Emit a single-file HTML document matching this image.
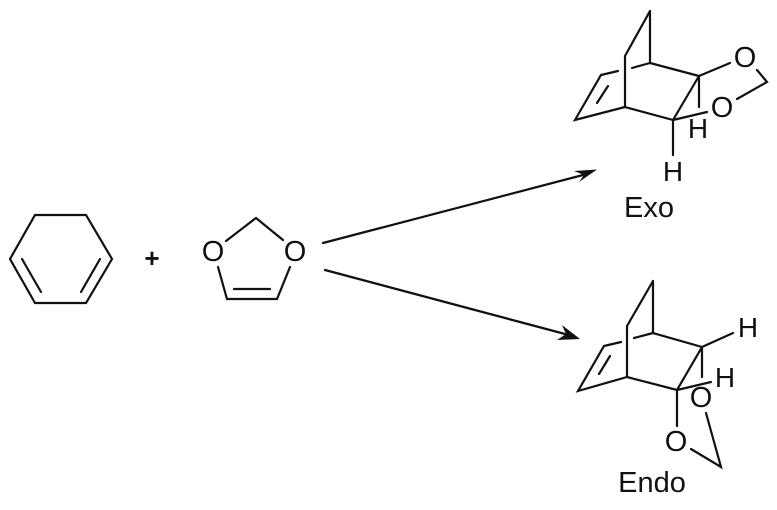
<!DOCTYPE html>
<html>
<head>
<meta charset="utf-8">
<style>
html,body{margin:0;padding:0;background:#fff;width:777px;height:510px;overflow:hidden}
svg{display:block}
text{font-family:"Liberation Sans",sans-serif;fill:#111;text-anchor:middle}
.b{stroke:#111;stroke-width:2.2;fill:none;stroke-linecap:round;stroke-linejoin:miter}
</style>
</head>
<body>
<svg width="777" height="510" viewBox="0 0 777 510">
<!-- cyclohexadiene -->
<polygon class="b" points="35,215 86,215 112,259 86,303 35,303 10,259"/>
<path class="b" d="M22,259L41,292M100,259L81,292"/>
<text x="152" y="267" font-size="26" font-weight="bold">+</text>
<!-- dioxole -->
<path class="b" d="M226,241L256,218L283,240M218,267L227,299H277L290,267M234,289H270"/>
<text x="213" y="261" font-size="29">O</text>
<text x="295" y="261" font-size="29">O</text>
<!-- arrows -->
<path class="b" d="M323,243L583,175M325,270L565,334"/>
<polygon points="597,169.500 574,171 584,175 579,182" fill="#111"/>
<polygon points="580,339 562,325 566,334 557,340" fill="#111"/>
<!-- exo -->
<path class="b" d="M650,11L625,56V107L673,120L699,76L650,63V11M650,63L632,68M618,71L601,75L575,120L625,107M608,86L597,103M699,76V107M673,120L707,112M673,120V155M699,76L730,63M757,70L767,82L737,99"/>
<text x="745" y="67" font-size="29">O</text>
<text x="722" y="117" font-size="29">O</text>
<text x="698" y="138" font-size="28">H</text>
<text x="673" y="181" font-size="28">H</text>
<text x="649" y="217" font-size="29">Exo</text>
<!-- endo -->
<path class="b" d="M653,281L627,326V377L677,390L702,347L653,333V281M653,333L634,338M621,342L604,346L578,391L627,377M610,356L599,374M702,347V377M677,390L711,382M702,347L733,333M677,390V426M691,449L721,467L706,413"/>
<text x="748" y="337" font-size="28">H</text>
<text x="725" y="387" font-size="28">H</text>
<text x="701" y="407" font-size="29">O</text>
<text x="676" y="451" font-size="29">O</text>
<text x="652" y="492" font-size="29">Endo</text>
</svg>
</body>
</html>
